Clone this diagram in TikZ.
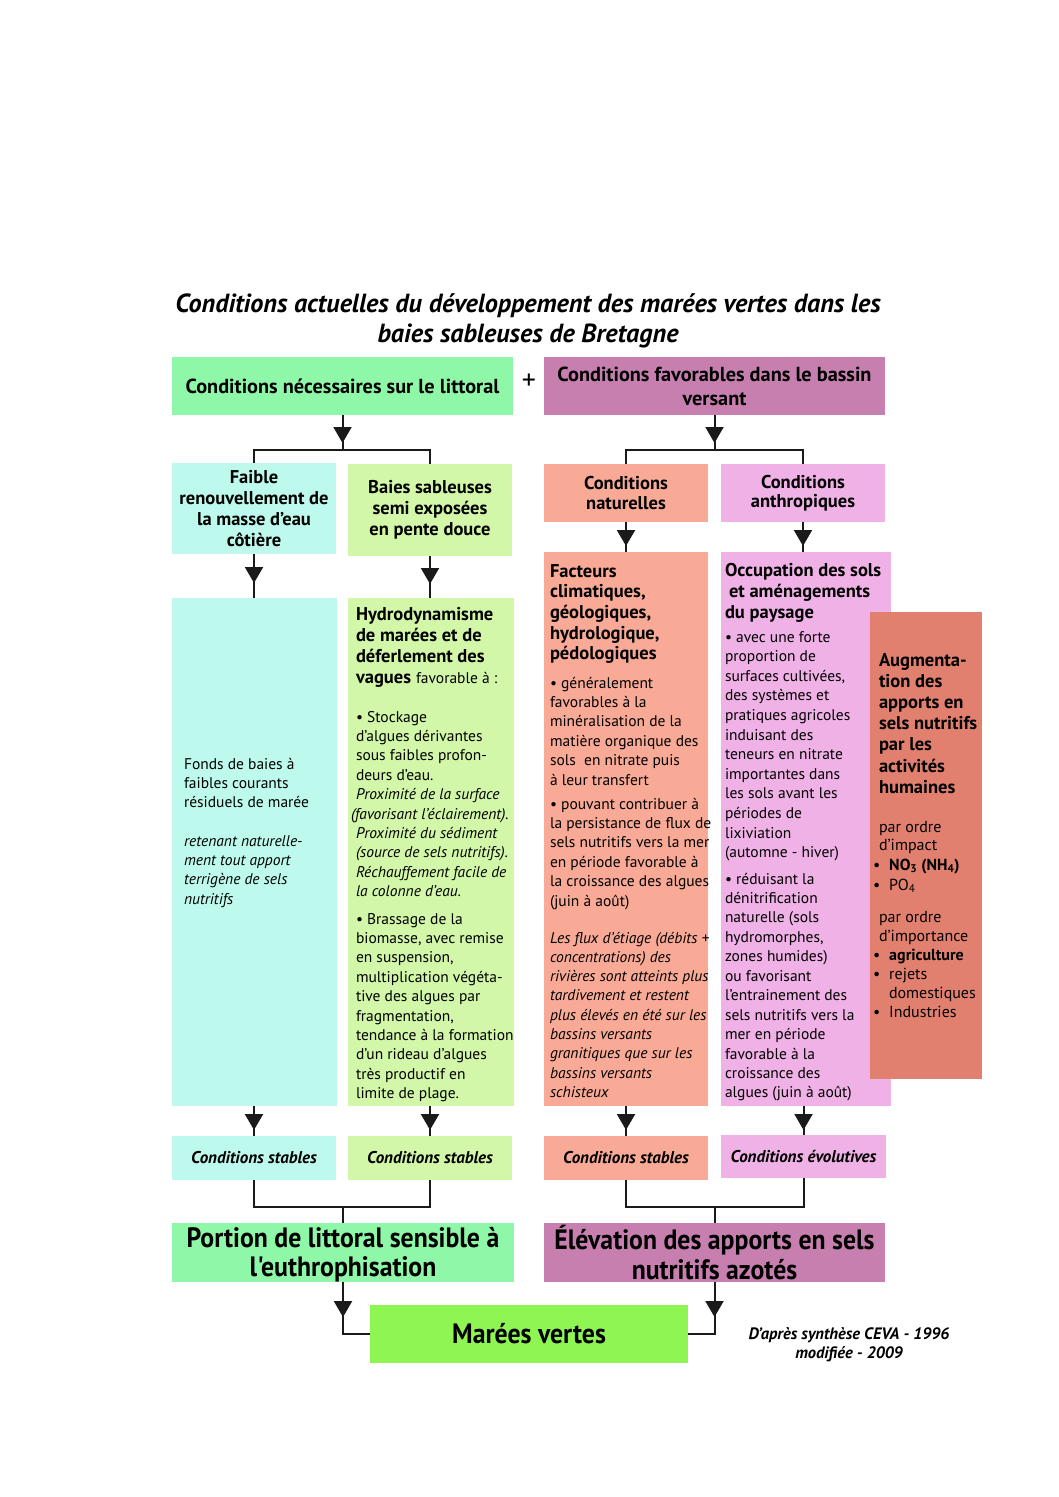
\documentclass[tikz,border=0pt]{standalone}
\usepackage{fontspec}
\setmainfont{PT Sans}
\newfontfamily\condf[FakeStretch=0.92]{PT Sans}
\usetikzlibrary{arrows.meta,decorations.markings}
\definecolor{cLit}{HTML}{8FF7A8}
\definecolor{cBas}{HTML}{C77FAF}
\definecolor{cCyan}{HTML}{BDF9EC}
\definecolor{cLime}{HTML}{D2F7A8}
\definecolor{cSal}{HTML}{F9AA96}
\definecolor{cPink}{HTML}{F0B2E6}
\definecolor{cAug}{HTML}{E2806F}
\definecolor{cMar}{HTML}{8EF552}
\definecolor{cLine}{HTML}{1A1A1A}
\newcommand\txtblk[1]{\parbox[t]{200pt}{\raggedright #1}}
\newcommand\bodyf{\fontsize{15.5}{19.4}\selectfont}
\begin{document}
\begin{tikzpicture}[x=1pt,y=-1pt,
  box/.style={rectangle, draw=none, inner sep=0pt, outer sep=0pt, anchor=north west, align=center},
  conn/.style={draw=cLine, line width=2pt},
  tri/.style={postaction={decorate}, decoration={markings, mark=at position #1 with {\arrow{Triangle[width=18pt,length=16pt]}}}},
  txt/.style={anchor=base west, inner sep=0pt, outer sep=0pt},
  stab/.style={font=\fontsize{17}{20}\selectfont\bfseries\itshape},
  big/.style={font=\fontsize{28}{29.5}\selectfont\condf\bfseries}]
\useasboundingbox (0,0) rectangle (1058,1497);
\fill[white] (0,0) rectangle (1058,1497);
% title
\node[inner sep=0pt, align=center, font=\fontsize{26.2}{29.5}\selectfont\bfseries\itshape] (title) at (528,321)
  {Conditions actuelles du développement des marées vertes dans les\\baies sableuses de Bretagne};
% top boxes
\node[box, fill=cLit, minimum width=341pt, minimum height=58pt, font=\fontsize{20.3}{23}\selectfont\bfseries] (L0) at (172,357) {Conditions nécessaires sur le littoral};
\node[box, fill=cBas, minimum width=341pt, minimum height=58pt, font=\fontsize{20.3}{24}\selectfont\bfseries] (R0) at (544,357) {Conditions favorables dans le bassin\\versant};
\node[inner sep=0pt, font=\fontsize{28}{28}\selectfont] (plus) at (529,382) {+};
% second row
\node[box, fill=cCyan, minimum width=164pt, minimum height=91pt, font=\fontsize{18.5}{21.3}\selectfont\bfseries] (FH) at (172,463) {Faible\\renouvellement de\\la masse d'eau\\côtière};
\node[box, fill=cLime, minimum width=164pt, minimum height=92pt, font=\fontsize{18.5}{21}\selectfont\bfseries] (BH) at (348,464) {Baies sableuses\\semi exposées\\en pente douce};
\node[box, fill=cSal, minimum width=164pt, minimum height=58pt, font=\fontsize{18.5}{19.5}\selectfont\bfseries] (NH) at (544,464) {Conditions\\naturelles};
\node[box, fill=cPink, minimum width=164pt, minimum height=58pt, font=\fontsize{18.5}{19.5}\selectfont\bfseries] (AH) at (721,464) {Conditions\\anthropiques};
% big boxes
\node[box, fill=cCyan, minimum width=165pt, minimum height=508pt] (FB) at (172,598) {};
\node[box, fill=cLime, minimum width=166pt, minimum height=508pt] (BB) at (348,598) {};
\node[box, fill=cSal, minimum width=164pt, minimum height=554pt] (NB) at (544,552) {};
\node[box, fill=cPink, minimum width=170pt, minimum height=554pt] (AB) at (721,552) {};
\node[box, fill=cAug, minimum width=112pt, minimum height=467pt] (AUG) at (870,612) {};
% stable boxes
\node[box, fill=cCyan, minimum width=164pt, minimum height=44pt, stab] (S1) at (172,1136) {Conditions stables};
\node[box, fill=cLime, minimum width=164pt, minimum height=44pt, stab] (S2) at (348,1136) {Conditions stables};
\node[box, fill=cSal, minimum width=164pt, minimum height=44pt, stab] (S3) at (544,1136) {Conditions stables};
\node[box, fill=cPink, minimum width=165pt, minimum height=43pt, stab] (S4) at (721,1135) {Conditions évolutives};
% result boxes
\node[box, fill=cLit, minimum width=342pt, minimum height=59pt, big] (P) at (172,1223) {\rule{0pt}{24pt}Portion de littoral sensible à\\l'euthrophisation};
\node[box, fill=cBas, minimum width=341pt, minimum height=59pt, big] (E) at (544,1223) {\rule{0pt}{24pt}Élévation des apports en sels\\nutritifs azotés};
\node[box, fill=cMar, minimum width=318pt, minimum height=58pt, big] (M) at (370,1305) {Marées vertes};
\node[inner sep=0pt, align=center, font=\fontsize{16.5}{19}\selectfont\bfseries\itshape] (credit) at (849,1345) {D'après synthèse CEVA - 1996\\modifiée - 2009};
% texts in cyan box
\node[txt] (fbA) at (184,769) {\txtblk{\bodyf Fonds de baies à\\faibles courants\\résiduels de marée}};
\node[txt] (fbB) at (184,846) {\txtblk{\bodyf\itshape retenant naturelle-\\ment tout apport\\terrigène de sels\\nutritifs}};
% texts in lime box
\node[txt] (bbH) at (356,620) {\txtblk{\fontsize{18.5}{21.3}\selectfont\textbf{Hydrodynamisme}\\\textbf{de marées et de}\\\textbf{déferlement des}\\\textbf{vagues} {\fontsize{15.5}{21}\selectfont favorable à :}}};
\node[txt] (bbA) at (356,722) {\txtblk{\bodyf\textbullet\ Stockage\\d’algues dérivantes\\sous faibles profon-\\deurs d’eau.\\\itshape Proximité de la surface\\\hspace*{-5pt}(favorisant l'éclairement).\\Proximité du sédiment\\(source de sels nutritifs).\\Réchauffement facile de\\la colonne d’eau.}};
\node[txt] (bbB) at (356,924) {\txtblk{\bodyf\textbullet\ Brassage de la\\biomasse, avec remise\\en suspension,\\multiplication végéta-\\tive des algues par\\fragmentation,\\tendance à la formation\\d’un rideau d’algues\\très productif en\\limite de plage.}};
% texts in salmon box
\node[txt] (nbH) at (550,577) {\txtblk{\fontsize{18.5}{20.7}\selectfont\bfseries Facteurs\\climatiques,\\géologiques,\\hydrologique,\\pédologiques}};
\node[txt] (nbA) at (550,688) {\txtblk{\bodyf\textbullet\ généralement\\favorables à la\\minéralisation de la\\matière organique des\\sols~ en nitrate puis\\à leur transfert}};
\node[txt] (nbB) at (550,809) {\txtblk{\bodyf\textbullet\ pouvant contribuer à\\la persistance de flux de\\sels nutritifs vers la mer\\en période favorable à\\la croissance des algues\\(juin à août)}};
\node[txt] (nbC) at (550,943) {\txtblk{\fontsize{15.5}{19.3}\selectfont\itshape Les flux d'étiage (débits +\\concentrations) des\\rivières sont atteints plus\\tardivement et restent\\plus élevés en été sur les\\bassins versants\\granitiques que sur les\\bassins versants\\schisteux}};
% texts in pink box
\node[txt] (abH) at (725,576) {\txtblk{\fontsize{18.5}{21.3}\selectfont\bfseries Occupation des sols\\\hspace*{4pt}et aménagements\\du paysage}};
\node[txt] (abA) at (725,642) {\txtblk{\fontsize{15.5}{19.6}\selectfont\textbullet\ avec une forte\\proportion de\\surfaces cultivées,\\des systèmes et\\pratiques agricoles\\induisant des\\teneurs en nitrate\\importantes dans\\les sols avant les\\périodes de\\lixiviation\\(automne - hiver)}};
\node[txt] (abB) at (725,884) {\txtblk{\fontsize{15.5}{19.45}\selectfont\textbullet\ réduisant la\\dénitrification\\naturelle (sols\\hydromorphes,\\zones humides)\\ou favorisant\\l'entrainement des\\sels nutritifs vers la\\mer en période\\favorable à la\\croissance des\\algues (juin à août)}};
% texts in augmentation box
\node[txt] (auH) at (879,666) {\txtblk{\fontsize{18.5}{21.2}\selectfont\bfseries Augmenta-\\tion des\\apports en\\sels nutritifs\\par les\\activités\\humaines}};
\node[txt] (auA) at (879,832) {\txtblk{\fontsize{16}{18.5}\selectfont par ordre\\d'impact}};
\node[txt] (auB) at (873,870) {\txtblk{\fontsize{16}{20}\selectfont\textbullet\hspace{9pt}\textbf{NO\textsubscript{3} (NH\textsubscript{4})}\\\textbullet\hspace{9pt}PO\textsubscript{4}}};
\node[txt] (auC) at (879,922) {\txtblk{\fontsize{16}{19}\selectfont par ordre\\d'importance}};
\node[txt] (auD) at (873,960) {\txtblk{\fontsize{16}{19.3}\selectfont\textbullet\hspace{9pt}\textbf{agriculture}\\\textbullet\hspace{9pt}rejets\\\hspace*{16pt}domestiques\\\textbullet\hspace{9pt}Industries}};
% connectors
\coordinate (jL) at (0,450);
\coordinate (jP) at (0,1207);
\draw[conn, tri=28pt] (L0.south) -- (L0.south |- jL);
\draw[conn] (FH.north) -- (FH.north |- jL) -- (BH.north |- jL) -- (BH.north);
\draw[conn, tri=28pt] (R0.south) -- (R0.south |- jL);
\draw[conn] (NH.north) -- (NH.north |- jL) -- (AH.north |- jL) -- (AH.north);
\draw[conn, tri=29pt] (FH.south) -- (FB.north -| FH.south);
\draw[conn, tri=28pt] (BH.south) -- (BB.north -| BH.south);
\draw[conn, tri=24pt] (NH.south) -- (NB.north -| NH.south);
\draw[conn, tri=24pt] (AH.south) -- (AB.north -| AH.south);
\draw[conn, tri=24pt] (FB.south -| S1.north) -- (S1.north);
\draw[conn, tri=24pt] (BB.south -| S2.north) -- (S2.north);
\draw[conn, tri=24pt] (NB.south -| S3.north) -- (S3.north);
\draw[conn, tri=24pt] (AB.south -| S4.north) -- (S4.north);
\draw[conn] (S1.south) -- (S1.south |- jP) -- (S2.south |- jP) -- (S2.south);
\draw[conn] (S3.south) -- (S3.south |- jP) -- (S4.south |- jP) -- (S4.south);
\draw[conn] (P.north) -- (P.north |- jP);
\draw[conn] (E.north) -- (E.north |- jP);
\draw[conn, tri=35pt] (P.south) -- (P.south |- M.west) -- (M.west);
\draw[conn, tri=35pt] (E.south) -- (E.south |- M.east) -- (M.east);
\end{tikzpicture}
\end{document}
